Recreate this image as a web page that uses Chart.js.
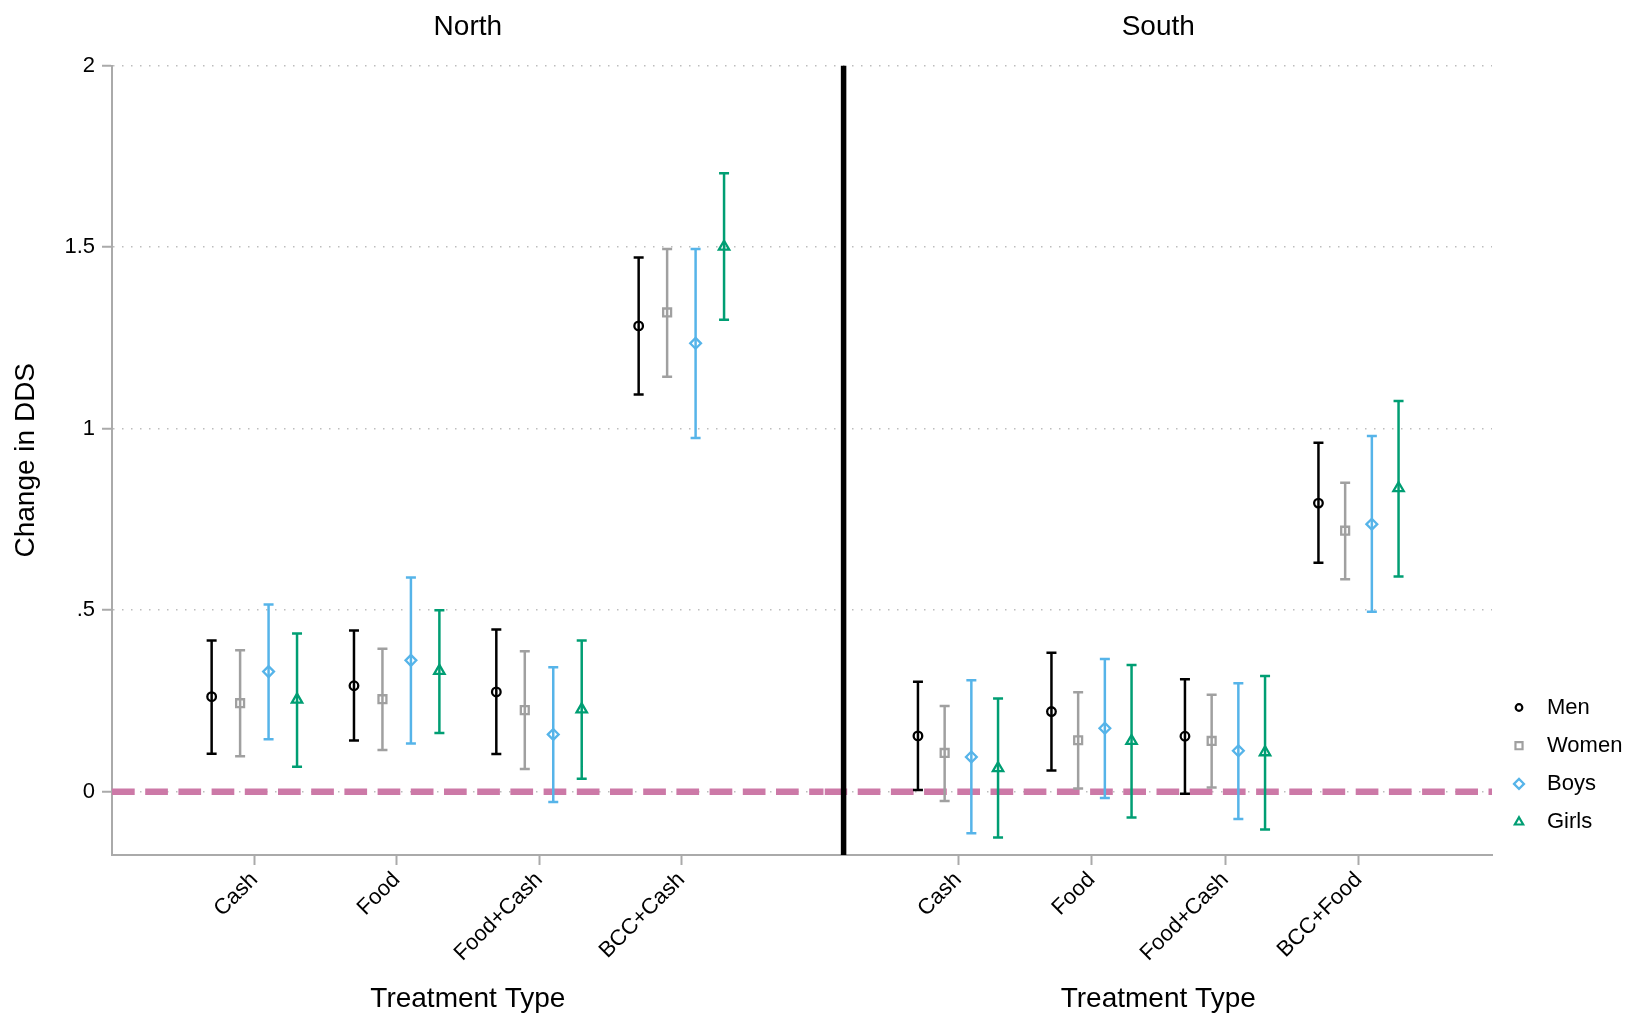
<!DOCTYPE html>
<html>
<head>
<meta charset="utf-8">
<title>Change in DDS by treatment type</title>
<script src="https://cdn.jsdelivr.net/npm/chart.js@4.4.1/dist/chart.umd.min.js"></script>
<style>
  html, body { margin: 0; padding: 0; background: #fff; }
  #wrap { position: relative; width: 1629px; height: 1016px; overflow: hidden; }
  #wrap canvas { position: absolute; top: 0; }
  #northChart { left: 0; }
  #southChart { left: 812px; }
</style>
</head>
<body>
<div id="wrap">
  <canvas id="northChart" width="832" height="1016" style="width:832px;height:1016px"></canvas>
  <canvas id="southChart" width="817" height="1016" style="width:817px;height:1016px"></canvas>
</div>
<script>
// ---- data ----
const northCategories = ['Cash', 'Food', 'Food+Cash', 'BCC+Cash'];
const southCategories = ['Cash', 'Food', 'Food+Cash', 'BCC+Food'];
const groups = ['Men', 'Women', 'Boys', 'Girls'];

const yTickValues = [0, 0.5, 1, 1.5, 2];
const yTickLabels = ['0', '.5', '1', '1.5', '2'];
const yMin = -0.174;
const yMax = 2;
const xMin = 0;
const xMax = 5;

// North: point estimate, lower and upper CI bound per treatment
const northMen     = [0.262, 0.292, 0.275, 1.283];
const northMenLo   = [0.105, 0.141, 0.104, 1.094];
const northMenHi   = [0.417, 0.444, 0.447, 1.471];
const northWomen   = [0.244, 0.255, 0.225, 1.320];
const northWomenLo = [0.098, 0.115, 0.063, 1.143];
const northWomenHi = [0.390, 0.394, 0.387, 1.495];
const northBoys    = [0.331, 0.362, 0.158, 1.235];
const northBoysLo  = [0.145, 0.133, -0.028, 0.974];
const northBoysHi  = [0.516, 0.590, 0.343, 1.495];
const northGirls   = [0.254, 0.333, 0.227, 1.501];
const northGirlsLo = [0.069, 0.162, 0.036, 1.300];
const northGirlsHi = [0.436, 0.500, 0.417, 1.703];

// South
const southMen     = [0.154, 0.221, 0.153, 0.795];
const southMenLo   = [0.005, 0.059, -0.005, 0.631];
const southMenHi   = [0.303, 0.383, 0.310, 0.961];
const southWomen   = [0.107, 0.142, 0.140, 0.719];
const southWomenLo = [-0.025, 0.009, 0.012, 0.585];
const southWomenHi = [0.236, 0.274, 0.267, 0.851];
const southBoys    = [0.096, 0.175, 0.113, 0.737];
const southBoysLo  = [-0.114, -0.017, -0.075, 0.496];
const southBoysHi  = [0.307, 0.366, 0.299, 0.980];
const southGirls   = [0.065, 0.140, 0.109, 0.836];
const southGirlsLo = [-0.126, -0.071, -0.104, 0.593];
const southGirlsHi = [0.257, 0.349, 0.319, 1.076];

const dividerX = 0.143; // the thick black separator, in South x units

// ---- styling ----
const groupColors = ['#000000', '#a0a0a0', '#56b4e9', '#009e73'];
const groupMarkers = ['circle', 'rect', 'rectRot', 'triangle'];
const markerRadius = [4.3, 5.6, 5.4, 6];
const legendRadius = [3.3, 5, 5, 4.8];
const dodge = 0.2;
const axisGray = '#aaaaaa';

Chart.defaults.font.family = "'Liberation Sans', Arial, Helvetica, sans-serif";
Chart.defaults.color = '#000';

function panelDatasets(est, lo, hi) {
  const sets = [];
  groups.forEach((g, gi) => {
    const shift = (gi - 1.5) * dodge;
    const bars = [];
    est[gi].forEach((v, ci) => {
      const x = ci + 1 + shift;
      bars.push({x: x, y: lo[gi][ci]}, {x: x, y: hi[gi][ci]}, {x: x, y: null});
    });
    sets.push({
      label: g + ' CI',
      data: bars,
      borderColor: groupColors[gi],
      borderWidth: 2.5,
      pointStyle: 'line',
      pointRadius: 5,
      pointBorderWidth: 2.5,
      pointBorderColor: groupColors[gi],
      spanGaps: false,
      order: 2
    });
    sets.push({
      label: g,
      data: est[gi].map((v, ci) => ({x: ci + 1 + shift, y: v})),
      showLine: false,
      pointStyle: groupMarkers[gi],
      pointRadius: markerRadius[gi],
      pointBorderWidth: 2.3,
      pointBorderColor: groupColors[gi],
      pointBackgroundColor: 'rgba(0,0,0,0)',
      order: 1
    });
  });
  sets.push({
    label: 'zero',
    data: [{x: xMin, y: 0}, {x: xMax, y: 0}],
    borderColor: '#cc79a7',
    borderWidth: 6.5,
    borderDash: [22.7, 10.5],
    pointRadius: 0,
    order: 5
  });
  return sets;
}

function xScale(categories) {
  return {
    type: 'linear',
    min: xMin,
    max: xMax,
    afterBuildTicks: s => { s.ticks = categories.map((c, i) => ({value: i + 1})); },
    afterFit: s => { s.height = 161; },
    ticks: {
      callback: (v, i) => categories[i],
      autoSkip: false,
      minRotation: 45,
      maxRotation: 45,
      padding: 2,
      font: {size: 22}
    },
    grid: { drawOnChartArea: false, tickLength: 10, tickColor: axisGray, tickWidth: 2 },
    border: { color: axisGray, width: 2 },
    title: { display: true, text: 'Treatment Type', font: {size: 28}, padding: {top: 0, bottom: 0} }
  };
}

const yGrid = { color: '#bdbdbd', lineWidth: 1.5, tickLength: 10, tickColor: axisGray, tickWidth: 2, tickBorderDash: [] };

function panelTitle(text) {
  return {
    display: true, text: text, fullSize: false,
    font: {size: 28, weight: 'normal'},
    padding: {top: 10.8, bottom: 21.1}
  };
}

const sideLegend = {
  id: 'sideLegend',
  afterDraw(chart) {
    const {ctx, chartArea} = chart;
    ctx.save();
    groups.forEach((name, i) => {
      const y = chartArea.bottom - 147.5 + i * 38.2;
      const x = chartArea.right + 27;
      ctx.lineWidth = 2.2;
      ctx.strokeStyle = groupColors[i];
      ctx.fillStyle = 'rgba(0,0,0,0)';
      Chart.helpers.drawPoint(ctx, {pointStyle: groupMarkers[i], radius: legendRadius[i], borderWidth: 2.2, rotation: 0}, x, y);
      ctx.fillStyle = '#000';
      ctx.font = "22px 'Liberation Sans', Arial, sans-serif";
      ctx.textAlign = 'left';
      ctx.textBaseline = 'middle';
      ctx.fillText(name, chartArea.right + 55, y);
    });
    ctx.restore();
  }
};

const northChart = new Chart(document.getElementById('northChart'), {
  type: 'line',
  data: {
    datasets: panelDatasets(
      [northMen, northWomen, northBoys, northGirls],
      [northMenLo, northWomenLo, northBoysLo, northGirlsLo],
      [northMenHi, northWomenHi, northBoysHi, northGirlsHi])
  },
  options: {
    responsive: false,
    animation: false,
    events: [],
    layout: { padding: {left: 0, right: 7, top: 0, bottom: 0} },
    plugins: {
      legend: { display: false },
      tooltip: { enabled: false },
      title: panelTitle('North')
    },
    scales: {
      x: xScale(northCategories),
      y: {
        min: yMin,
        max: yMax,
        afterBuildTicks: s => { s.ticks = yTickValues.map(v => ({value: v})); },
        afterFit: s => { s.width = 112; },
        ticks: { callback: (v, i) => yTickLabels[i], padding: 7, font: {size: 22} },
        grid: yGrid,
        border: { color: axisGray, width: 2, dash: [1.5, 7.5] },
        title: { display: true, text: 'Change in DDS', font: {size: 28}, padding: {top: 9, bottom: 0} }
      }
    }
  }
});

const southSets = panelDatasets(
  [southMen, southWomen, southBoys, southGirls],
  [southMenLo, southWomenLo, southBoysLo, southGirlsLo],
  [southMenHi, southWomenHi, southBoysHi, southGirlsHi]);
southSets.push({
  label: 'divider',
  data: [{x: dividerX, y: yMin}, {x: dividerX, y: yMax}],
  borderColor: '#000',
  borderWidth: 5.5,
  pointRadius: 0,
  order: 0
});

const southChart = new Chart(document.getElementById('southChart'), {
  type: 'line',
  data: { datasets: southSets },
  options: {
    responsive: false,
    animation: false,
    events: [],
    layout: { padding: {left: 12.5, right: 137, top: 0, bottom: 0} },
    plugins: {
      legend: { display: false },
      tooltip: { enabled: false },
      title: panelTitle('South')
    },
    scales: {
      x: xScale(southCategories),
      y: {
        min: yMin,
        max: yMax,
        afterBuildTicks: s => { s.ticks = yTickValues.map(v => ({value: v})); },
        afterFit: s => { s.width = 0; },
        ticks: { display: false },
        grid: Object.assign({}, yGrid, {drawTicks: false}),
        border: { display: false, dash: [1.5, 7.5] }
      }
    }
  },
  plugins: [sideLegend]
});
</script>
</body>
</html>
